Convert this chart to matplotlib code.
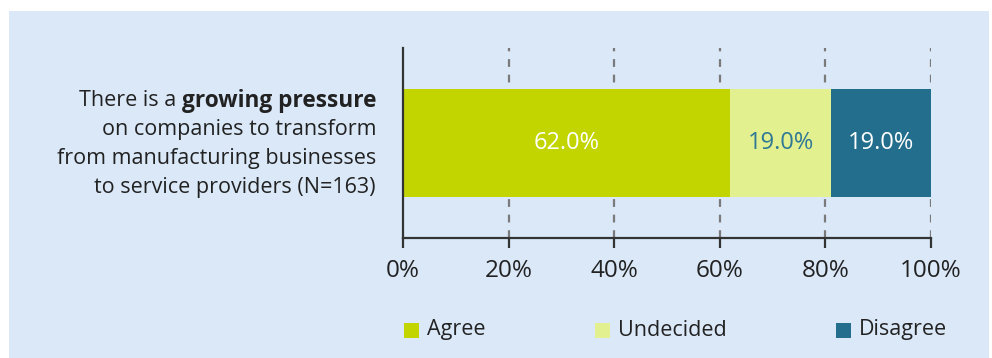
import matplotlib
matplotlib.use("Agg")
import matplotlib.pyplot as plt
from matplotlib.patches import Rectangle

categories = ["Agree", "Undecided", "Disagree"]
values = [62.0, 19.0, 19.0]
colors = ["#C2D500", "#E3F08F", "#226E8C"]
label_colors = ["white", "#2F7896", "white"]
ticks = [0, 20, 40, 60, 80, 100]
tick_labels = ["0%", "20%", "40%", "60%", "80%", "100%"]

W, H = 992, 358
fig = plt.figure(figsize=(W / 100, H / 100), dpi=100)
fig.patch.set_facecolor("white")
plt.rcParams["font.family"] = ["Open Sans", "DejaVu Sans"]

# light blue panel
fig.patches.append(Rectangle((9 / W, 0), (989 - 9) / W, (H - 11) / H,
                             transform=fig.transFigure, facecolor="#DAE8F8",
                             edgecolor="none", zorder=-5))

ax = fig.add_axes([403 / W, (H - 238) / H, (931 - 403) / W, (238 - 48) / H])
ax.set_facecolor("none")
ax.set_xlim(0, 100)
ax.set_ylim(-0.88, 0.88)

for t in ticks[1:]:
    ax.axvline(t, color="#7A7A7A", lw=1.6, ls=(0, (3.5, 3.5)), zorder=1)

left = 0
for v, c, lc in zip(values, colors, label_colors):
    ax.barh(0, v, left=left, height=1.0, color=c, zorder=2)
    ax.text(left + v / 2, 0, f"{v:.1f}%", ha="center", va="center",
            color=lc, fontsize=17, zorder=3)
    left += v

for s in ["top", "right"]:
    ax.spines[s].set_visible(False)
for s in ["left", "bottom"]:
    ax.spines[s].set_color("#333333")
    ax.spines[s].set_linewidth(1.6)
ax.set_yticks([])
ax.set_xticks(ticks)
ax.set_xticklabels(tick_labels, fontsize=17.5, color="#222222")
ax.tick_params(axis="x", length=7, width=1.6, color="#333333", pad=8)

# category label with a bold phrase in the first line
fig.canvas.draw()
r = fig.canvas.get_renderer()
x_right = 376 / W
lines_y = [101, 130, 159, 187]
fs = 15.5
bold = fig.text(x_right, (H - lines_y[0]) / H, "growing pressure", ha="right",
                va="center", fontsize=16.3, fontweight="bold", color="#222222")
bb = bold.get_window_extent(r)
fig.text(bb.x0 / W, (H - lines_y[0]) / H, "There is a ", ha="right", va="center",
         fontsize=fs, color="#222222")
rest = ["on companies to transform", "from manufacturing businesses",
        "to service providers (N=163)"]
for y, s in zip(lines_y[1:], rest):
    fig.text(x_right, (H - y) / H, s, ha="right", va="center", fontsize=fs,
             color="#222222")

# legend
leg_x = [404, 595, 836]
for x, c, name in zip(leg_x, colors, categories):
    fig.patches.append(Rectangle((x / W, (H - 338) / H), 15 / W, 15 / H,
                                 transform=fig.transFigure, facecolor=c,
                                 edgecolor="none"))
    fig.text((x + 23) / W, (H - 330) / H, name, ha="left", va="center",
             fontsize=15.5, color="#222222")

fig.savefig("out.png", dpi=100)
